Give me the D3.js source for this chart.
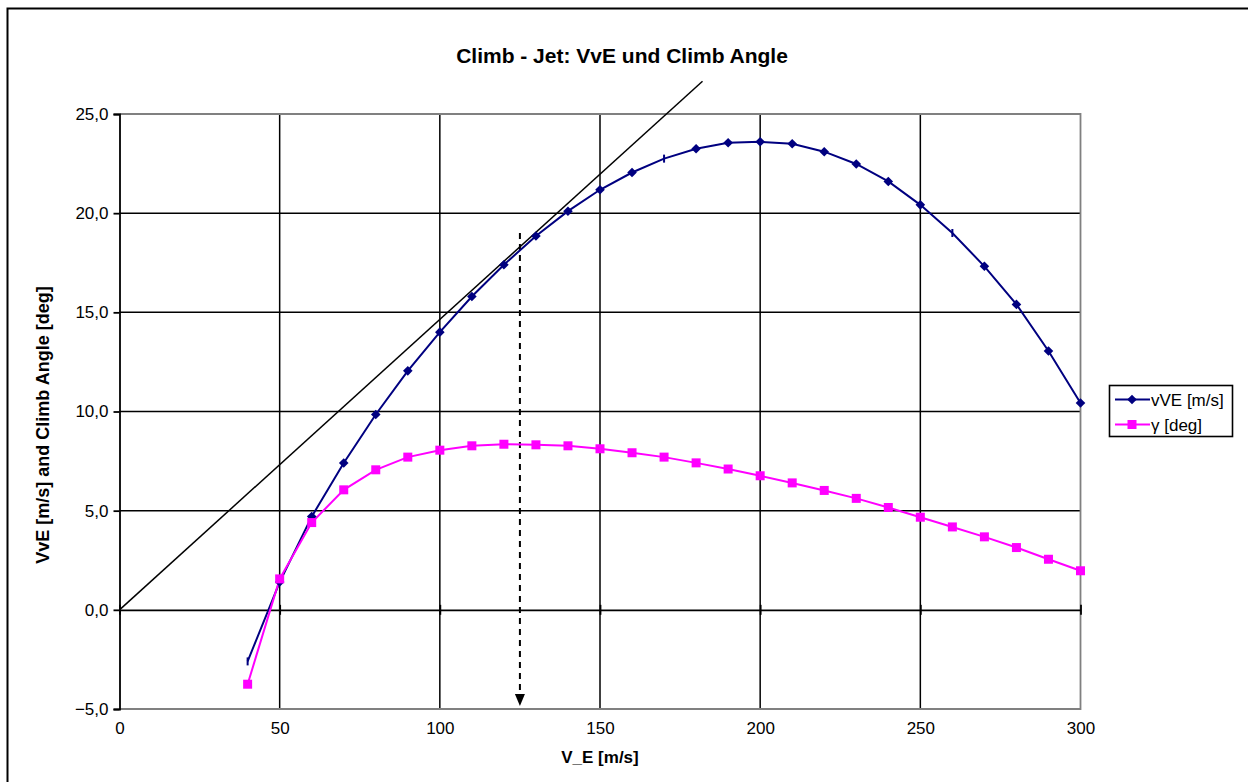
<!DOCTYPE html>
<html><head><meta charset="utf-8">
<script src="https://cdn.jsdelivr.net/npm/d3@7"></script>
<style>
html,body{margin:0;padding:0;background:#fff;overflow:hidden;}
svg{display:block;}
text{font-family:"Liberation Sans",Arial,sans-serif;}
</style></head>
<body>
<svg id="chart" width="1248" height="782"></svg>
<script>
// ---- data ----
const speeds = [40,50,60,70,80,90,100,110,120,130,140,150,160,170,180,190,200,210,220,230,240,250,260,270,280,290,300];
const vVE = [-2.6,1.4,4.7,7.4,9.85,12.05,14.0,15.8,17.4,18.85,20.1,21.18,22.05,22.75,23.25,23.55,23.6,23.5,23.1,22.48,21.6,20.42,19.0,17.32,15.4,13.05,10.43];
const gamma = [-3.75,1.56,4.4,6.05,7.06,7.7,8.05,8.27,8.35,8.32,8.27,8.12,7.92,7.7,7.41,7.1,6.76,6.4,6.02,5.62,5.16,4.67,4.18,3.68,3.14,2.55,1.97];
const tickStyleSpeeds = [40,170,260]; // vVE points drawn as dashes in the original
const tangentLine = [[0,0],[182,26.65]];
const arrowX = 125, arrowFrom = 19.0, arrowTo = -4.85;
const xTicks = [0,50,100,150,200,250,300];
const yTicks = [-5,0,5,10,15,20,25];
const seriesNames = ["vVE [m/s]","\u03b3 [deg]"];
const title = "Climb - Jet: VvE und Climb Angle";
const xLabel = "V_E [m/s]";
const yLabel = "VvE [m/s] and Climb Angle [deg]";

// ---- layout ----
const svg = d3.select("#chart");
const x = d3.scaleLinear().domain([0,300]).range([119.5,1080.5]);
const y = d3.scaleLinear().domain([-5,25]).range([709,114]);
const navy = "#000080", pink = "#FF00FF";
const fmt = v => d3.format(".1f")(v).replace(".", ",");
const FONT = "'Liberation Sans',Arial,sans-serif";

// outer border (only left/top visible)
svg.append("path").attr("d","M7.5,790V8.5H1260")
  .attr("fill","none").attr("stroke","#000").attr("stroke-width",2);

// gridlines
const g = svg.append("g");
g.selectAll(".hg").data(yTicks.filter(v=>v!==-5 && v!==25 && v!==0)).enter().append("line")
  .attr("x1",x(0)).attr("x2",x(300)).attr("y1",d=>y(d)).attr("y2",d=>y(d))
  .attr("stroke","#000").attr("stroke-width",1.5);
g.selectAll(".vg").data(xTicks.filter(v=>v!==0 && v!==300)).enter().append("line")
  .attr("x1",d=>x(d)).attr("x2",d=>x(d)).attr("y1",y(25)).attr("y2",y(-5))
  .attr("stroke","#000").attr("stroke-width",1.5);

// plot frame (gray)
g.append("path").attr("d",`M${x(0)},${y(25)}H${x(300)}V${y(-5)}H${x(0)}`)
  .attr("fill","none").attr("stroke","#808080").attr("stroke-width",1.8);

// y axis
const yAxis = svg.append("g").attr("transform",`translate(${x(0)},0)`)
  .call(d3.axisLeft(y).tickValues(yTicks).tickFormat(fmt).tickSize(6).tickPadding(5));
yAxis.select(".domain").attr("stroke","#000").attr("stroke-width",1.8);
yAxis.selectAll(".tick line").attr("stroke","#000").attr("stroke-width",1.8);
yAxis.selectAll("text").attr("font-size",17).attr("fill","#000").attr("font-family",FONT);

// zero line x axis with crossing ticks
const xAxis0 = svg.append("g").attr("transform",`translate(0,${y(0)})`)
  .call(d3.axisBottom(x).tickValues(xTicks).tickFormat("").tickSizeInner(5).tickSizeOuter(0));
xAxis0.select(".domain").attr("stroke","#000").attr("stroke-width",1.8);
xAxis0.selectAll(".tick line").attr("y1",-5).attr("stroke","#000").attr("stroke-width",1.8);

// x tick labels at bottom
const xAxisB = svg.append("g").attr("transform",`translate(0,${y(-5)})`)
  .call(d3.axisBottom(x).tickValues(xTicks).tickFormat(d3.format("d")).tickSize(0).tickPadding(13));
xAxisB.select(".domain").remove();
xAxisB.selectAll("text").attr("font-size",17).attr("fill","#000").attr("font-family",FONT);

// tangent line
svg.append("line").attr("x1",x(tangentLine[0][0])).attr("y1",y(tangentLine[0][1]))
  .attr("x2",x(tangentLine[1][0])).attr("y2",y(tangentLine[1][1]))
  .attr("stroke","#000").attr("stroke-width",1.5);

// dashed arrow
svg.append("line").attr("x1",x(arrowX)).attr("x2",x(arrowX))
  .attr("y1",y(arrowFrom)).attr("y2",y(arrowTo)-12)
  .attr("stroke","#000").attr("stroke-width",2).attr("stroke-dasharray","6,5");
svg.append("path")
  .attr("d",`M${x(arrowX)-5},${y(arrowTo)-12}L${x(arrowX)+5},${y(arrowTo)-12}L${x(arrowX)},${y(arrowTo)}Z`)
  .attr("fill","#000");

// series
const line = d3.line().x(d=>x(d[0])).y(d=>y(d[1]));
const vData = speeds.map((s,i)=>[s,vVE[i]]);
const gData = speeds.map((s,i)=>[s,gamma[i]]);

svg.append("path").datum(vData).attr("d",line).attr("fill","none").attr("stroke",navy).attr("stroke-width",2);
svg.append("path").datum(gData).attr("d",line).attr("fill","none").attr("stroke",pink).attr("stroke-width",2);

const dh = 4.8;
const diamondPath = `M0,${-dh}L${dh},0L0,${dh}L${-dh},0Z`;
svg.selectAll(".vm").data(vData.filter(d=>!tickStyleSpeeds.includes(d[0]))).enter().append("path")
  .attr("d",diamondPath).attr("transform",d=>`translate(${x(d[0])},${y(d[1])})`).attr("fill",navy);
svg.selectAll(".vt").data(vData.filter(d=>tickStyleSpeeds.includes(d[0]))).enter().append("line")
  .attr("x1",d=>x(d[0])).attr("x2",d=>x(d[0])).attr("y1",d=>y(d[1])-4).attr("y2",d=>y(d[1])+4)
  .attr("stroke",navy).attr("stroke-width",2);
svg.selectAll(".gm").data(gData).enter().append("rect")
  .attr("x",d=>x(d[0])-4.5).attr("y",d=>y(d[1])-4.5).attr("width",9).attr("height",9).attr("fill",pink);

// title & labels
svg.append("text").attr("x",622).attr("y",63).attr("text-anchor","middle")
  .attr("font-size",21).attr("font-weight","bold").text(title);
svg.append("text").attr("x",600).attr("y",763).attr("text-anchor","middle")
  .attr("font-size",17).attr("font-weight","bold").text(xLabel);
svg.append("text").attr("transform","translate(49,425) rotate(-90)").attr("text-anchor","middle")
  .attr("font-size",18).attr("font-weight","bold").text(yLabel);

// legend
const lg = svg.append("g");
lg.append("rect").attr("x",1109.5).attr("y",385.5).attr("width",123).attr("height",51)
  .attr("fill","#fff").attr("stroke","#000").attr("stroke-width",1.6);
const legendItems = [{name:seriesNames[0],color:navy,type:"d"},{name:seriesNames[1],color:pink,type:"s"}];
legendItems.forEach((it,i)=>{
  const ly = 399.5 + i*25;
  lg.append("line").attr("x1",1115).attr("x2",1150).attr("y1",ly).attr("y2",ly)
    .attr("stroke",it.color).attr("stroke-width",2);
  if(it.type==="d") lg.append("path").attr("d",diamondPath).attr("transform",`translate(1132,${ly})`).attr("fill",it.color);
  else lg.append("rect").attr("x",1127.5).attr("y",ly-4.5).attr("width",9).attr("height",9).attr("fill",it.color);
  lg.append("text").attr("x",1151).attr("y",ly+6).attr("font-size",17).text(it.name);
});
</script>
</body></html>
